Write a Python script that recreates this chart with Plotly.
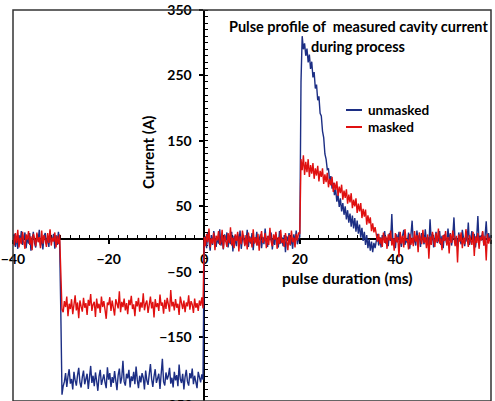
import plotly.graph_objects as go

# sampling grid (ms)
t_start, t_step = -40.0, 0.25

unmasked = (
    [-2, 8, -12, 4, -15, 6, -4, 12, -9, -1, 10, -14, 3, -7, 9, -18, 2, 11, -6, -13,
     7, -2, 14, -10, 0, -16, 5, 9, -8, 3, -12, 13, -5, -1, 8, -15, 6, -9, 11, -4]
    + [-110, -238, -225,
       -218, -205, -226, -210, -199, -221, -214, -230, -203, -216,
       -224, -208, -197, -219, -227, -211, -201, -222, -215, -206,
       -229, -212, -194, -220, -209, -225, -204, -217, -232, -210,
       -200, -223, -213, -207, -219, -228, -196, -215, -205, -226,
       -211, -220, -202, -214, -231, -208, -198, -221, -212, -186,
       -218, -224, -206, -213, -200, -227, -210, -217, -203, -222,
       -195, -215, -228, -209, -219, -205, -212, -230, -201, -216,
       -223, -207, -191, -214, -226, -210, -199, -220, -213, -206,
       -229, -211, -183, -218, -224, -204, -215, -209, -197, -221,
       -212, -227, -203, -216, -208, -225, -192, -214, -220, -206,
       -230, -211, -200, -218, -224, -205, -213, -198, -222, -209,
       -217, -228, -203, -212, -219, -207, -215]
    + [-6, 4, -14, 9, -3, -18, 6, -9, 12, -1, -12, 3, -7, 15, -10, 1, -16, 7, -4, 10,
       -13, 2, -8, 11, -19, 5, -2, -11, 8, -6, 13, -15, 0, 6, -9, -3, 14, -12, 4, -7,
       9, -17, 2, -5, 11, -10, -1, 7, -14, 3, -8, 16, -6, -12, 5, -2, 10, -16, 1, -9,
       8, -4, -13, 12, -7, 3, -11, 6, -20, 4, -3, 9, -10, 2, -15, 7, -5, 13, -8, 0]
    + [3, 240, 310, 290, 299, 280, 291, 270, 282, 260, 271, 247, 255, 230, 236, 212,
       218, 192, 188, 165, 155, 130, 122, 106, 107, 88, 96, 77, 86, 67, 76, 57, 68, 49,
       62, 42, 55, 37, 50, 30, 44, 25, 39, 19, 36, 16, 32, 11, 28, 8, 22, 2, 17, -3, 11,
       -9, 6, -14, 0, -18, -4, -20, -6, -14]
    + [-4, 8, -10, 3, -13, 6, -1, 12, -7, 2, -11, 9, -3, 38, -8, 1, -14, 7, -5, 11,
       -2, -12, 5, 14, -9, 0, -6, 10, -15, 4, 28, -7, 2, -10, 13, -3, 6, -12, 9, -1,
       -8, 15, -5, 3, -11, 30, -4, 8, -13, 1, 11, -6, -2, 12, -9, 5, -14, 7, 0, -7,
       16, -3, 9, -10, 4, 33, -6, 2, -12, 10, -1, -8, 14, 3, -11, 6, -4, 25, -9, 1,
       12, -5, 8, -13, 2, 35, -7, 5, -2, 11, -10, 4, 27, -6, 9, -3, 6]
)

masked = (
    [5, -10, 9, -6, 14, -13, 2, -8, 11, -3, -15, 7, -1, 12, -9, 4, -17, 8, 1, -11,
     10, -5, 3, -14, 13, -7, 6, -2, -12, 9, -6, 15, -10, 2, -4, 10, -13, 5, -8, 7]
    + [-55, -108,
       -112, -95, -104, -88, -118, -99, -107, -92, -115, -101,
       -86, -109, -97, -121, -94, -103, -111, -90, -105, -98,
       -116, -93, -102, -84, -110, -100, -96, -119, -91, -106,
       -99, -113, -88, -104, -95, -108, -122, -97, -101, -89,
       -110, -94, -103, -117, -92, -99, -106, -80, -112, -96,
       -104, -91, -109, -98, -115, -93, -101, -87, -107, -100,
       -118, -95, -103, -90, -111, -97, -105, -83, -109, -99,
       -94, -113, -101, -88, -106, -96, -120, -92, -104, -98,
       -110, -85, -102, -97, -114, -93, -107, -90, -100, -111,
       -78, -103, -96, -109, -92, -105, -99, -116, -88, -101,
       -107, -94, -112, -97, -103, -86, -108, -95, -100, -113,
       -91, -105, -98, -110, -94, -102, -89, -106]
    + [3, -11, 8, -5, 16, -13, 1, -7, 10, -17, 5, -2, 12, -9, -4, 14, -15, 6, -1, -12,
       9, -6, 18, -10, 2, -14, 7, -3, 11, -19, 4, -8, 13, 0, -11, 6, -16, 10, -5, 2,
       -13, 15, -7, 3, -10, 8, -18, 1, 12, -6, -2, 9, -14, 5, -9, 17, -4, -11, 7, -1,
       11, -15, 3, -8, 14, -6, 0, -12, 9, -3, -17, 6, -9, 13, -5, 2, -13, 8, -2, 10]
    + [8, 122, 105, 128, 98, 118, 102, 122, 95, 113, 100, 116, 92, 108, 97, 112, 88,
       104, 95, 108, 84, 99, 87, 101, 79, 92, 82, 95, 72, 86, 75, 88, 66, 80, 70, 83,
       60, 74, 63, 76, 54, 68, 56, 70, 47, 60, 50, 62, 40, 54, 42, 55, 32, 46, 34, 45,
       22, 36, 24, 33, 12, 24, 10, 18]
    + [6, -4, 8, -8, 2, -12, 10, -6, 4, -15, 7, -2, 13, -10, 1, -18, 9, -5, 3, -28,
       11, -7, 5, -13, 15, -3, 0, -16, 8, -9, 2, -11, 12, -4, 6, -20, 10, -1, -8, 14,
       -6, 3, -14, 7, -30, 4, -9, 11, -2, -12, 9, -5, 16, -7, 1, -17, 6, -3, 12, -10,
       3, -22, 8, -6, 13, -1, -11, 5, -36, 7, -4, 10, -14, 2, -8, 15, -3, -12, 6, 0,
       -9, 11, -26, 4, -6, 9, -15, 3, -2, 12, -10, 5, -33, 8, -7, 2, -4]
)

t_unmasked = [t_start + t_step * i for i in range(len(unmasked))]
t_masked = [t_start + t_step * i for i in range(len(masked))]

y_ticks = [350, 250, 150, 50, -50, -150]
x_ticks = [-40, -20, 0, 20, 40, 60]

BLUE = "#1c2e84"
RED = "#e01010"
FONT = "Lato"

W, H = 495, 401
ML, MR, MT, MB = 13, 4, 10, 0
YMIN, YMAX = -247.6, 350
XMIN, XMAX = -40, 60

fig = go.Figure()
fig.add_trace(go.Scatter(x=t_unmasked, y=unmasked, mode="lines",
                         line=dict(color=BLUE, width=1.4), name="unmasked"))
fig.add_trace(go.Scatter(x=t_masked, y=masked, mode="lines",
                         line=dict(color=RED, width=1.4), name="masked"))

tickfont = dict(family=FONT, size=14, color="black", weight="bold")

fig.update_layout(
    width=W, height=H,
    margin=dict(l=ML, r=MR, t=MT, b=MB, autoexpand=False),
    paper_bgcolor="white", plot_bgcolor="white",
    showlegend=False,
    xaxis=dict(range=[XMIN, XMAX], anchor="free",
               position=(0 - YMIN) / (YMAX - YMIN),
               showgrid=False, zeroline=False, showline=True,
               linecolor="black", linewidth=1.5, layer="below traces",
               tickvals=x_ticks, ticks="outside", ticklen=4, tickwidth=1.5,
               tickcolor="black", tickfont=tickfont, ticklabelstandoff=3,
               minor=dict(dtick=2, ticks="inside", ticklen=3, tickwidth=1.2,
                          tickcolor="black", showgrid=False)),
    yaxis=dict(range=[YMIN, YMAX], anchor="free",
               position=(0 - XMIN) / (XMAX - XMIN),
               showgrid=False, zeroline=False, showline=True,
               linecolor="black", linewidth=1.5, layer="below traces",
               tickvals=y_ticks, ticks="outside", ticklen=4, tickwidth=1.5,
               tickcolor="black", tickfont=tickfont, ticklabelstandoff=5,
               minor=dict(dtick=10, ticks="inside", ticklen=3, tickwidth=1.2,
                          tickcolor="black", showgrid=False)),
)

def px_x(px):
    return (px - ML) / (W - ML - MR)

def px_y(py):
    return (H - MB - py) / (H - MT - MB)

# frame
fig.add_shape(type="rect", xref="paper", yref="paper", x0=0, x1=1, y0=0, y1=1,
              line=dict(color="#333333", width=1.5), layer="above")

title_font = dict(family=FONT, size=14.5, color="black", weight="bold")
fig.add_annotation(text="Pulse profile of  measured cavity current", xref="paper", yref="paper",
                   x=px_x(358), y=px_y(27), showarrow=False, xanchor="center",
                   yanchor="middle", font=title_font)
fig.add_annotation(text="during process", xref="paper", yref="paper",
                   x=px_x(358), y=px_y(47), showarrow=False, xanchor="center",
                   yanchor="middle", font=title_font)
fig.add_annotation(text="pulse duration (ms)", xref="paper", yref="paper",
                   x=px_x(347), y=px_y(278), showarrow=False, xanchor="center",
                   yanchor="middle",
                   font=dict(family=FONT, size=15.5, color="black", weight="bold"))
fig.add_annotation(text="Current (A)", xref="paper", yref="paper", x=px_x(148), y=px_y(152),
                   textangle=-90, showarrow=False, xanchor="center", yanchor="middle",
                   font=dict(family=FONT, size=15, color="black", weight="bold"))
fig.add_annotation(text="-250", xref="paper", yref="paper", x=px_x(195), y=px_y(404),
                   showarrow=False, xanchor="right", yanchor="middle",
                   font=tickfont)

# manual legend
for name, color, py in [("unmasked", BLUE, 110), ("masked", RED, 127)]:
    fig.add_shape(type="line", xref="paper", yref="paper",
                  x0=px_x(346), x1=px_x(362), y0=px_y(py), y1=px_y(py),
                  line=dict(color=color, width=2))
    fig.add_annotation(text=name, xref="paper", yref="paper", x=px_x(366), y=px_y(py),
                       showarrow=False, xanchor="left", yanchor="middle",
                       font=dict(family=FONT, size=13.5, color="black", weight="bold"))

fig.write_html("out.html", config={"displayModeBar": False},
               post_script="document.body.style.margin='0';document.body.style.overflow='hidden';")
